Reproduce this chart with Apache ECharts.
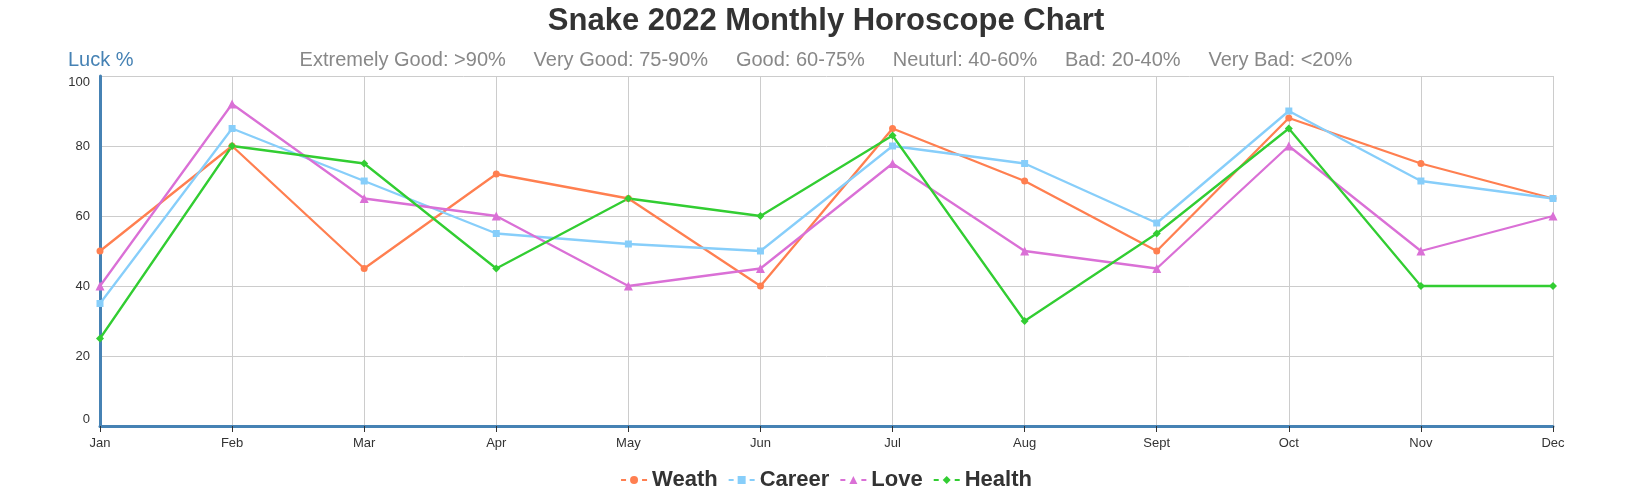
<!DOCTYPE html>
<html>
<head>
<meta charset="utf-8">
<script src="https://cdn.jsdelivr.net/npm/echarts@6/dist/echarts.min.js"></script>
<style>
html,body{margin:0;padding:0;background:#fff;}
#chart{width:1652px;height:500px;}
</style>
</head>
<body>
<div id="chart"></div>
<script>
const months = ['Jan','Feb','Mar','Apr','May','Jun','Jul','Aug','Sept','Oct','Nov','Dec'];
const weath  = [50, 80, 45, 72, 65, 40, 85, 70, 50, 88, 75, 65];
const career = [35, 85, 70, 55, 52, 50, 80, 75, 58, 90, 70, 65];
const love   = [40, 92, 65, 60, 40, 45, 75, 50, 45, 80, 50, 60];
const health = [25, 80, 75, 45, 65, 60, 83, 30, 55, 85, 40, 40];
const yTicks = {min: 0, max: 100, interval: 20};
const titleText = 'Snake 2022 Monthly Horoscope Chart';
const scaleText = 'Extremely Good: >90%     Very Good: 75-90%     Good: 60-75%     Neuturl: 40-60%     Bad: 20-40%     Very Bad: <20%';
const yName = 'Luck %';

const FONT = '"Liberation Sans", Arial, sans-serif';
const chart = echarts.init(document.getElementById('chart'), null, {renderer: 'canvas'});

function mk(name, data, color, symbol, size) {
  return {
    name: name, type: 'line', data: data,
    symbol: symbol, symbolSize: size,
    lineStyle: {color: color, width: 2.3},
    itemStyle: {color: color},
    emphasis: {disabled: true},
    animation: false
  };
}

chart.setOption({
  animation: false,
  textStyle: {fontFamily: FONT},
  title: [
    {text: titleText, left: 'center', top: 1,
     textStyle: {fontFamily: FONT, fontSize: 31, fontWeight: 'bold', color: '#333'}},
    {text: scaleText, left: 'center', top: 45,
     textStyle: {fontFamily: FONT, fontSize: 20, fontWeight: 'normal', color: '#888'}},
    {text: yName, left: 63, top: 45,
     textStyle: {fontFamily: FONT, fontSize: 20, fontWeight: 'normal', color: '#4682b4'}}
  ],
  legend: {
    top: 464, left: 'center',
    itemWidth: 26, itemHeight: 10, itemGap: 10,
    lineStyle: {type: [5, 16], width: 2},
    textStyle: {fontFamily: FONT, fontSize: 22, fontWeight: 'bold', color: '#333'},
    data: ['Weath','Career','Love','Health']
  },
  grid: {left: 100, right: 99, top: 76, bottom: 74, containLabel: false},
  xAxis: {
    type: 'category', data: months, boundaryGap: false,
    axisLine: {lineStyle: {color: '#4682b4', width: 3}},
    axisTick: {show: true, alignWithLabel: true, length: 6, lineStyle: {color: '#333', width: 1}},
    axisLabel: {color: '#333', fontSize: 13, fontFamily: FONT, margin: 11},
    splitLine: {show: true, lineStyle: {color: '#ccc', width: 1}}
  },
  yAxis: {
    type: 'value', min: yTicks.min, max: yTicks.max, interval: yTicks.interval,
    axisLine: {show: true, lineStyle: {color: '#4682b4', width: 3}},
    axisTick: {show: false},
    axisLabel: {color: '#333', fontSize: 13, fontFamily: FONT, margin: 10,
                verticalAlignMinLabel: 'bottom', verticalAlignMaxLabel: 'top'},
    splitLine: {show: true, lineStyle: {color: '#ccc', width: 1}}
  },
  series: [
    mk('Weath', weath, '#ff7f50', 'circle', 7),
    mk('Career', career, '#87cefa', 'rect', 7),
    mk('Love', love, '#da70d6', 'triangle', 9),
    mk('Health', health, '#32cd32', 'diamond', 8)
  ]
});
</script>
</body>
</html>
